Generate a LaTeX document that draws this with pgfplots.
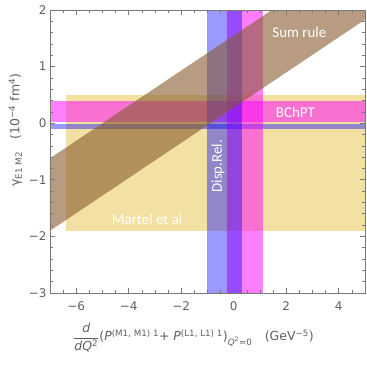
\documentclass[border=0pt]{standalone}
\usepackage{fontspec}
\setmainfont{DejaVu Sans}
\newfontfamily\labfont{Carlito}
\usepackage{amsmath}
\usepackage{pgfplots}
\pgfplotsset{compat=1.18}

\definecolor{framegray}{RGB}{120,120,120}
\definecolor{ticktext}{RGB}{95,95,95}
\definecolor{martel}{RGB}{230,195,70}
\definecolor{sumrule}{RGB}{135,90,45}
\definecolor{mag}{RGB}{255,0,255}
\definecolor{blu}{RGB}{0,0,255}

\begin{document}
\begin{tikzpicture}
  \begin{axis}[
      name=ax,
      width=315bp, height=283bp, scale only axis,
      xmin=-7, xmax=5, ymin=-3, ymax=2,
      axis line style={framegray, line width=0.8pt},
      xtick={-6,-4,-2,0,2,4}, xticklabels={−6,−4,−2,0,2,4},
      ytick={-3,-2,-1,0,1,2}, yticklabels={−3,−2,−1,0,1,2},
      minor xtick={-7,-6.5,...,5},
      minor ytick={-3,-2.8,...,2},
      tick align=inside,
      major tick length=5bp, minor tick length=3bp,
      tick style={framegray, line width=0.6pt},
      tick label style={font=\fontsize{12}{14}\selectfont, text=ticktext},
      xticklabel style={yshift=-5bp},
      label style={font=\fontsize{12.5}{15}\selectfont, text=ticktext},
      xlabel style={yshift=-6bp, xshift=-14bp},
      ylabel style={at={(ticklabel cs:0.575)}},
      xlabel={$\dfrac{\textit{d}}{\text{\textit{dQ}\textsuperscript{2}}}$(\textit{P}\textsuperscript{(M1, M1) 1}+ \textit{P}\textsuperscript{(L1, L1) 1})\textsubscript{\textit{Q}\textsuperscript{2}=0}\quad(GeV\textsuperscript{−5})},
      ylabel={γ\textsubscript{E1 M2}\quad(10\textsuperscript{−4} fm\textsuperscript{4})},
      axis on top,
    ]
    % Martel et al
    \addplot[draw=none, fill=martel, fill opacity=0.5]
      coordinates {(-6.4,-1.9) (5,-1.9) (5,0.5) (-6.4,0.5)} -- cycle;
    % BChPT (horizontal)
    \addplot[draw=none, fill=mag, fill opacity=0.5]
      coordinates {(-7,0.02) (5,0.02) (5,0.4) (-7,0.4)} -- cycle;
    % Disp. Rel. (horizontal)
    \addplot[draw=none, fill=blu, fill opacity=0.4]
      coordinates {(-7,-0.11) (5,-0.11) (5,-0.02) (-7,-0.02)} -- cycle;
    % BChPT (vertical)
    \addplot[draw=none, fill=mag, fill opacity=0.5]
      coordinates {(-0.25,-3) (1.1,-3) (1.1,2) (-0.25,2)} -- cycle;
    % Disp. Rel. (vertical)
    \addplot[draw=none, fill=blu, fill opacity=0.4]
      coordinates {(-1.0,-3) (0.3,-3) (0.3,2) (-1.0,2)} -- cycle;
    % Sum rule
    \addplot[draw=none, fill=sumrule, fill opacity=0.6]
      coordinates {(-7,-1.9) (5,1.83) (5,3.1) (-7,-0.62)} -- cycle;

    \node[font=\labfont\fontsize{15}{15}\selectfont, text=white] at (axis cs:2.5,1.6) {Sum rule};
    \node[font=\labfont\fontsize{15}{15}\selectfont, text=white] at (axis cs:2.35,0.19) {BChPT};
    \node[font=\labfont\fontsize{15}{15}\selectfont, text=white] at (axis cs:-3.3,-1.7) {Martel et al};
    \node[font=\labfont\fontsize{15}{15}\selectfont, text=white, rotate=90] at (axis cs:-0.6,-0.76) {Disp.Rel.};
  \end{axis}
  \pgfresetboundingbox
  \path[use as bounding box] ([shift={(-50bp,-73bp)}]ax.south west) rectangle ([shift={(2bp,10bp)}]ax.north east);
\end{tikzpicture}
\end{document}
